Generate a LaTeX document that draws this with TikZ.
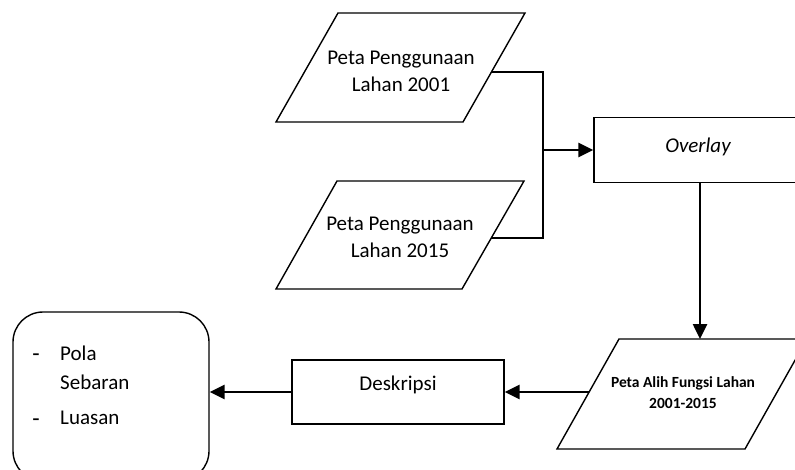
\documentclass[tikz,border=0pt]{standalone}
\usepackage{fontspec}
\setmainfont{Carlito}
\usetikzlibrary{arrows.meta}
\begin{document}
\begin{tikzpicture}[x=1pt,y=-1pt,
  shapeline/.style={draw=black, line width=1.4pt, line join=miter},
  conn/.style={draw=black, line width=2.6pt, line join=miter},
  arr/.style={conn, -{Triangle[length=15pt,width=14pt]}},
  lbl/.style={font=\fontsize{21}{27}\selectfont, align=center, inner sep=0pt},
  dashlbl/.style={font=\fontsize{24}{27}\selectfont, inner sep=0pt},
  boldlbl/.style={font=\fontsize{15.5}{21}\selectfont\bfseries, align=center, inner sep=0pt},
  boxnode/.style={shapeline, rectangle, font=\fontsize{21}{27}\selectfont, inner sep=0pt},
]
\useasboundingbox (0,0) rectangle (795,470);
\clip (0,0) rectangle (795,470);

% parallelograms
\draw[shapeline] (338,13) -- (525,13) -- (463,122) -- (276,122) -- cycle;
\node[lbl] (p1) at (401,71.5) {Peta Penggunaan\\Lahan 2001};
\coordinate (p1e) at (491.4,72);

\draw[shapeline] (337,181) -- (524,181) -- (462,289) -- (276,289) -- cycle;
\node[lbl] (p2) at (400,237.5) {Peta Penggunaan\\Lahan 2015};
\coordinate (p2e) at (491.3,238);

\draw[shapeline] (619,339) -- (807,339) -- (745,449) -- (557,449) -- cycle;
\node[boldlbl] (p3) at (683,392.5) {Peta Alih Fungsi Lahan\\2001-2015};
\coordinate (p3w) at (588.6,392);
\coordinate (p3n) at (700,339);

% boxes
\node[boxnode, minimum width=212pt, minimum height=65pt] (ov) at (700,150) {};
\node[lbl, font=\fontsize{21}{27}\selectfont\itshape] (ovt) at (698,147) {Overlay};
\node[boxnode, minimum width=212pt, minimum height=64pt] (desk) at (398,392) {};
\node[lbl] (deskt) at (398,385) {Deskripsi};
\node[shapeline, rectangle, rounded corners=30pt, minimum width=196pt, minimum height=169pt, inner sep=0pt] (res) at (111,396.5) {};

% result texts
\node[dashlbl] (d1) at (36,358) {-};
\node[lbl, anchor=west] (t1) at (60,353) {Pola};
\node[lbl, anchor=west] (t2) at (60,382) {Sebaran};
\node[dashlbl] (d2) at (36,423) {-};
\node[lbl, anchor=west] (t3) at (60,418) {Luasan};

% connectors
\coordinate (jn) at (543,150);
\draw[conn] (p1e) -| (jn) |- (p2e);
\draw[arr] (jn) -- (ov.west);
\draw[arr] (ov.south) -- (p3n);
\draw[arr] (p3w) -- (desk.east);
\draw[arr] (desk.west) -- (res.east |- desk.west);
\end{tikzpicture}
\end{document}
